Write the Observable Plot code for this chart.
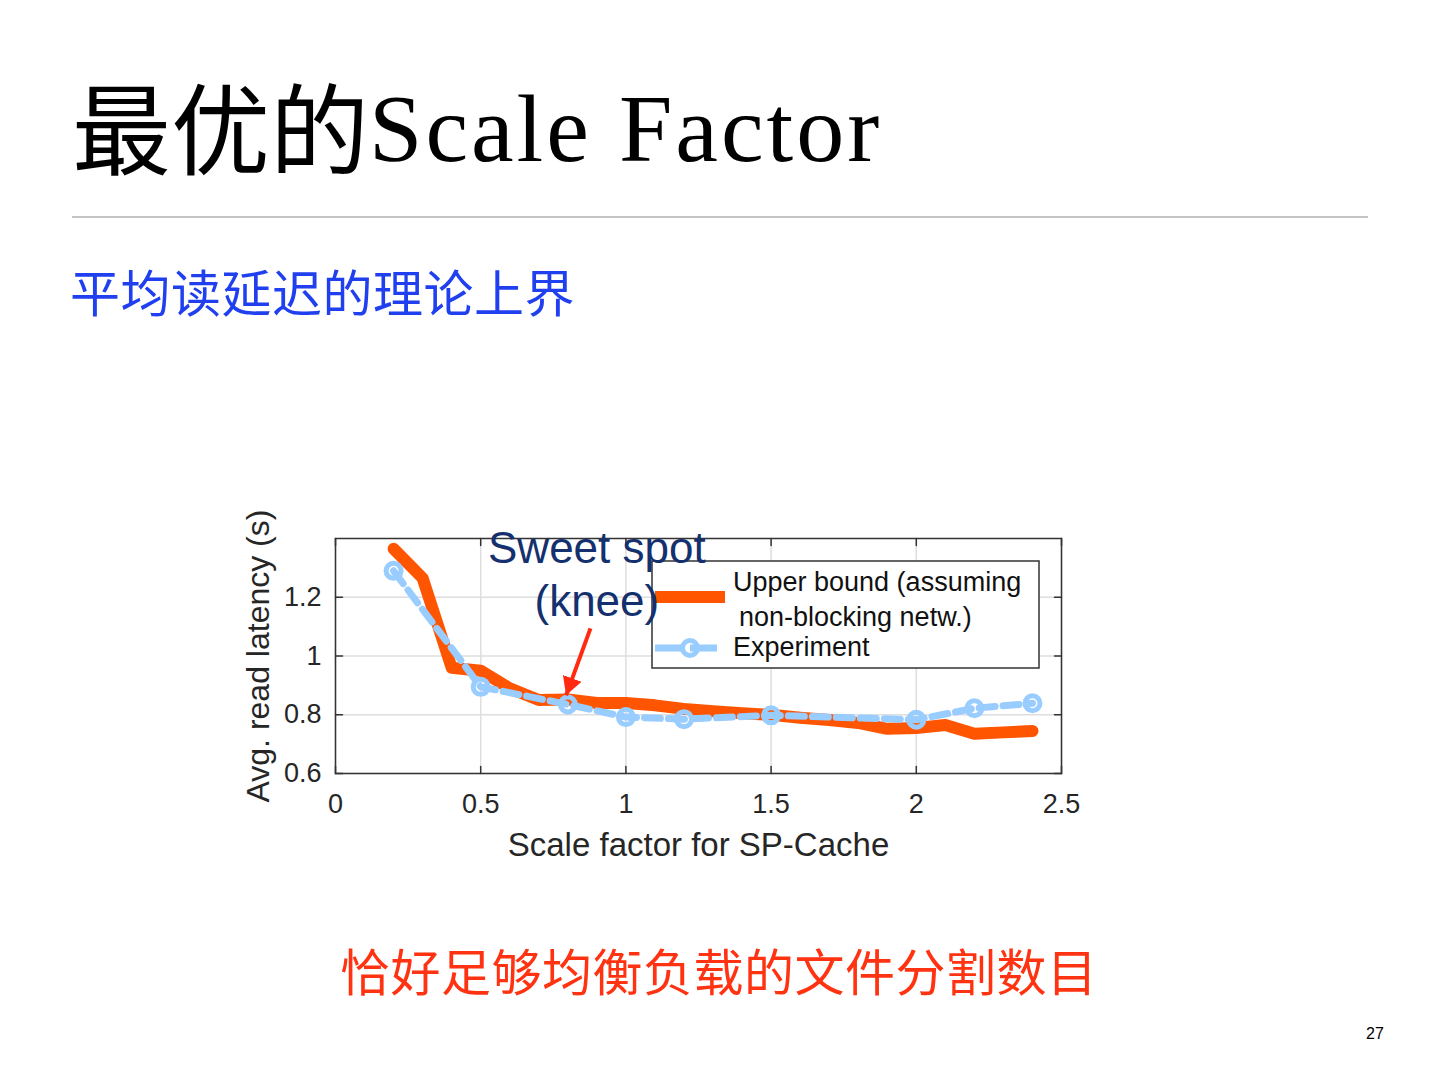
<!DOCTYPE html>
<html>
<head>
<meta charset="utf-8">
<script src="https://cdn.jsdelivr.net/npm/d3@7"></script>
<script src="https://cdn.jsdelivr.net/npm/@observablehq/plot@0.6"></script>
<style>
  html, body { margin: 0; padding: 0; background: #fff; }
  #page { position: relative; width: 1440px; height: 1080px; overflow: hidden; background: #fff; }
  .abs { position: absolute; white-space: nowrap; }
  #title { left: 72px; top: 70px; font-size: 96px; line-height: 96px; color: #000; }
  #title .zh { font-family: "Noto Sans CJK SC", serif; font-weight: 400; font-size: 99px; position: relative; top: 6px; }
  #title .en { font-family: "Liberation Serif", "DejaVu Serif", serif; letter-spacing: 3px; }
  #rule { left: 72px; top: 216px; width: 1296px; height: 2px; background: #c4c4c4; }
  #subtitle { left: 70px; top: 265px; font-family: "Noto Sans CJK SC", sans-serif; font-size: 50px; line-height: 50px; color: #2040f0; letter-spacing: 0.5px; }
  #bottom { left: 340px; top: 944px; font-family: "Noto Sans CJK SC", sans-serif; font-size: 50px; line-height: 50px; color: #ff3311; letter-spacing: 0.5px; }
  #pagenum { left: 1366px; top: 1026px; font-family: "Liberation Sans", Arial, sans-serif; font-size: 16px; line-height: 16px; color: #000; }
  #chart { left: 230px; top: 490px; }
</style>
</head>
<body>
<div id="page">
  <div id="title" class="abs"><span class="zh">最优的</span><span class="en">Scale Factor</span></div>
  <div id="rule" class="abs"></div>
  <div id="subtitle" class="abs">平均读延迟的理论上界</div>
  <div id="chart" class="abs"></div>
  <div id="bottom" class="abs">恰好足够均衡负载的文件分割数目</div>
  <div id="pagenum" class="abs">27</div>
</div>
<script>
// ---- Data ----
const xTicks = [0, 0.5, 1, 1.5, 2, 2.5];
const yTicks = [0.6, 0.8, 1, 1.2];
const xDomain = [0, 2.5];
const yDomain = [0.6, 1.4];

const upperX = [0.2, 0.3, 0.4, 0.5, 0.6, 0.7, 0.8, 0.9, 1.0, 1.1, 1.2, 1.3, 1.4, 1.5, 1.6, 1.7, 1.8, 1.9, 2.0, 2.1, 2.2, 2.3, 2.4];
const upperY = [1.365, 1.265, 0.960, 0.950, 0.890, 0.850, 0.852, 0.840, 0.840, 0.832, 0.820, 0.812, 0.805, 0.800, 0.790, 0.782, 0.772, 0.752, 0.755, 0.765, 0.735, 0.740, 0.745];

const expX = [0.2, 0.5, 0.8, 1.0, 1.2, 1.5, 2.0, 2.2, 2.4];
const expY = [1.29, 0.895, 0.835, 0.792, 0.785, 0.798, 0.783, 0.822, 0.839];

const seriesNames = ["Upper bound (assuming", "non-blocking netw.)", "Experiment"];
const xLabel = "Scale factor for SP-Cache";
const yLabel = "Avg. read latency (s)";
const noteLines = ["Sweet spot", "(knee)"];
const noteX = [0.9, 0.9];
const noteY = [1.365, 1.183];
const arrowFrom = {x: 0.878, y: 1.094};
const arrowTo = {x: 0.794, y: 0.866};

// ---- Styles ----
const orange = "#ff5500";
const blue = "#99ccff";
const navy = "#14306e";
const arrowRed = "#ff2a10";
const axisColor = "#262626";
const fontFamily = "'Liberation Sans', Arial, Helvetica, sans-serif";

const upper = upperX.map((x, i) => ({x, y: upperY[i]}));
const exp = expX.map((x, i) => ({x, y: expY[i]}));
const notes = noteLines.map((t, i) => ({t, x: noteX[i], y: noteY[i]}));

const tickShape = {draw(ctx, l) { ctx.moveTo(0, 0); ctx.lineTo(0, -l); }};
const fmt = d => String(d);

function filledArrow(color) {
  const m = d3.create("svg:marker")
    .attr("viewBox", "-10 -6 10 12")
    .attr("markerUnits", "userSpaceOnUse")
    .attr("markerWidth", 18)
    .attr("markerHeight", 22)
    .attr("refX", 0)
    .attr("refY", 0)
    .attr("orient", "auto");
  m.append("path").attr("d", "M-10,-5.5L0,0L-10,5.5Z").attr("fill", color).attr("stroke", "none");
  return m.node();
}

function legendMark() {
  const g = d3.create("svg:g").attr("text-anchor", "start");
  g.append("rect").attr("x", 422).attr("y", 71).attr("width", 387).attr("height", 107)
    .attr("fill", "#fff").attr("stroke", "#333").attr("stroke-width", 1.5);
  g.append("line").attr("x1", 425).attr("x2", 495).attr("y1", 107).attr("y2", 107)
    .attr("stroke", orange).attr("stroke-width", 12);
  g.append("line").attr("x1", 425).attr("x2", 495).attr("y1", 158).attr("y2", 158)
    .attr("stroke", blue).attr("stroke-width", 7).attr("stroke-dasharray", "27,8");
  g.append("circle").attr("cx", 460).attr("cy", 158).attr("r", 7.5)
    .attr("fill", "none").attr("stroke", blue).attr("stroke-width", 5);
  const tx = [503, 509, 503], ty = [101, 136, 166];
  seriesNames.forEach((s, i) => {
    g.append("text").attr("x", tx[i]).attr("y", ty[i]).attr("fill", "#111")
      .attr("text-anchor", "start")
      .attr("font-family", fontFamily).attr("font-size", 27).text(s);
  });
  return g.node();
}

const chart = Plot.plot({
  width: 870,
  height: 380,
  marginLeft: 105,
  marginRight: 39,
  marginTop: 48,
  marginBottom: 97,
  style: {background: "transparent", fontFamily, color: axisColor, overflow: "visible"},
  x: {domain: xDomain},
  y: {domain: yDomain},
  marks: [
    Plot.gridX(xTicks, {stroke: "#dedede", strokeOpacity: 1, strokeWidth: 1.5}),
    Plot.gridY(yTicks, {stroke: "#dedede", strokeOpacity: 1, strokeWidth: 1.5}),
    Plot.axisX(xTicks, {tickSize: 0, tickPadding: 20, fontSize: 27, fill: axisColor, label: null, tickFormat: fmt}),
    Plot.axisY(yTicks, {tickSize: 0, tickPadding: 14, fontSize: 27, fill: axisColor, label: null, tickFormat: fmt}),
    Plot.vector(xTicks, {x: d => d, y: () => yDomain[0], length: 7, rotate: 0, anchor: "start", shape: tickShape, stroke: "#333", strokeWidth: 1.5}),
    Plot.vector(xTicks, {x: d => d, y: () => yDomain[1], length: 7, rotate: 180, anchor: "start", shape: tickShape, stroke: "#333", strokeWidth: 1.5}),
    Plot.vector(yTicks, {y: d => d, x: () => xDomain[0], length: 7, rotate: 90, anchor: "start", shape: tickShape, stroke: "#333", strokeWidth: 1.5}),
    Plot.vector(yTicks, {y: d => d, x: () => xDomain[1], length: 7, rotate: 270, anchor: "start", shape: tickShape, stroke: "#333", strokeWidth: 1.5}),
    Plot.frame({stroke: "#333", strokeWidth: 1.5}),
    Plot.text([xLabel], {frameAnchor: "bottom", lineAnchor: "middle", textAnchor: "middle", dy: 72, fontSize: 33, fill: axisColor}),
    Plot.text([yLabel], {frameAnchor: "left", lineAnchor: "middle", textAnchor: "middle", rotate: -90, dx: -77, fontSize: 32, fill: axisColor}),
    Plot.line(upper, {x: "x", y: "y", stroke: orange, strokeWidth: 12, strokeLinejoin: "round"}),
    Plot.line(exp, {x: "x", y: "y", stroke: blue, strokeWidth: 7, strokeDasharray: "16,8"}),
    Plot.dot(exp, {x: "x", y: "y", r: 7.5, stroke: blue, strokeWidth: 5, fill: "none"}),
    legendMark,
    Plot.text(notes, {x: "x", y: "y", text: "t", fontSize: 44, fill: navy}),
    Plot.link([{x1: arrowFrom.x, y1: arrowFrom.y, x2: arrowTo.x, y2: arrowTo.y}],
      {x1: "x1", y1: "y1", x2: "x2", y2: "y2", stroke: arrowRed, strokeWidth: 4, markerEnd: filledArrow})
  ]
});
document.getElementById("chart").appendChild(chart);
</script>
</body>
</html>
